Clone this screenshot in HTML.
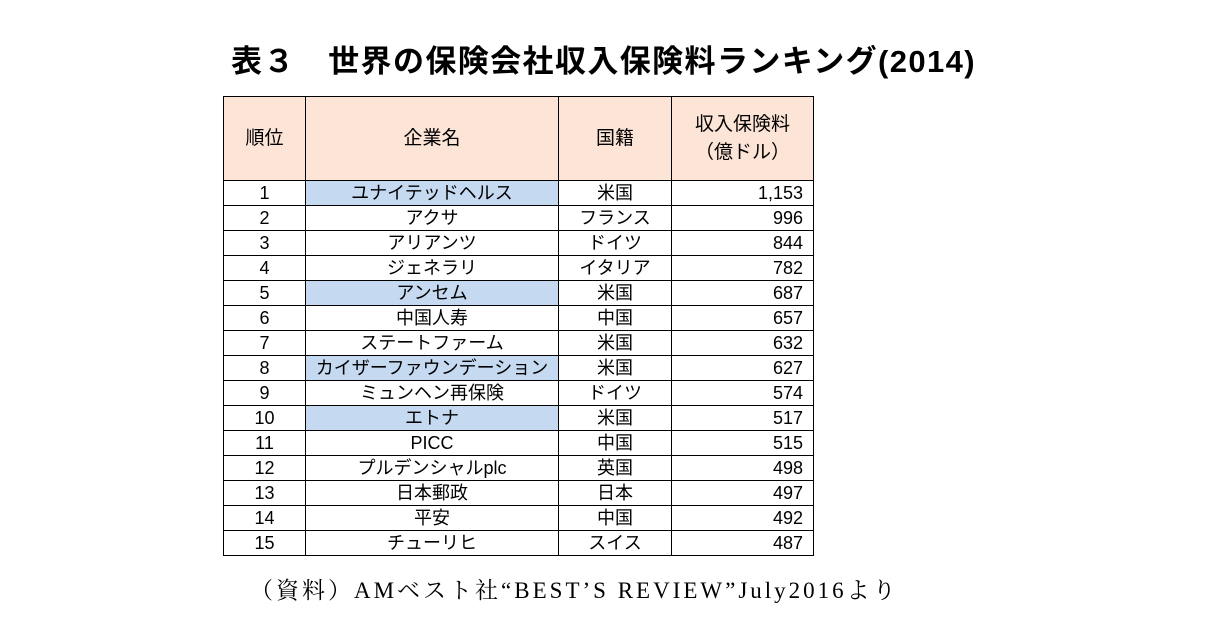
<!DOCTYPE html>
<html><head><meta charset="utf-8"><style>
body{margin:0;width:1207px;height:632px;background:#fff;position:relative;overflow:hidden;font-family:"Liberation Sans","Noto Sans CJK JP",sans-serif;color:#000}
#title{position:absolute;left:0;width:1207px;top:36px;text-align:center;font-size:31px;font-weight:bold;letter-spacing:1.4px}
table{position:absolute;left:223px;top:96px;border-collapse:collapse;font-size:18px}
td{border:1px solid #000;padding:0;height:24px;text-align:center;line-height:24px}
thead td{background:#fce4d6;height:83px;line-height:28px;font-size:19px}
td.num{text-align:right;padding-right:10px}
td.hl{background:#c5d9f1}
#src{position:absolute;left:250px;top:572px;font-family:"Liberation Serif","Noto Serif CJK SC",serif;font-size:23px;letter-spacing:3px}
</style></head><body>
<div id="title">表３　世界の保険会社収入保険料ランキング(2014)</div>
<table>
<colgroup><col style="width:82px"><col style="width:253px"><col style="width:113px"><col style="width:142px"></colgroup>
<thead><tr><td>順位</td><td>企業名</td><td>国籍</td><td>収入保険料<br>（億ドル）</td></tr></thead>
<tbody id="tb"></tbody></table>
<div id="src">（資料）AMベスト社“BEST’S REVIEW”July2016より</div>
<script>
const ranks=[1,2,3,4,5,6,7,8,9,10,11,12,13,14,15];
const companies=["ユナイテッドヘルス","アクサ","アリアンツ","ジェネラリ","アンセム","中国人寿","ステートファーム","カイザーファウンデーション","ミュンヘン再保険","エトナ","PICC","プルデンシャルplc","日本郵政","平安","チューリヒ"];
const countries=["米国","フランス","ドイツ","イタリア","米国","中国","米国","米国","ドイツ","米国","中国","英国","日本","中国","スイス"];
const premiums=[1153,996,844,782,687,657,632,627,574,517,515,498,497,492,487];
const highlighted=[true,false,false,false,true,false,false,true,false,true,false,false,false,false,false];
const tb=document.getElementById('tb');
ranks.forEach((r,i)=>{
 const tr=document.createElement('tr');
 
 
 tr.innerHTML='<td>'+r+'</td><td'+(highlighted[i]?' class="hl"':'')+'>'+companies[i]+'</td><td>'+countries[i]+'</td><td class="num">'+premiums[i].toLocaleString('en-US')+'</td>';
 tb.appendChild(tr);
});
</script>
</body></html>
